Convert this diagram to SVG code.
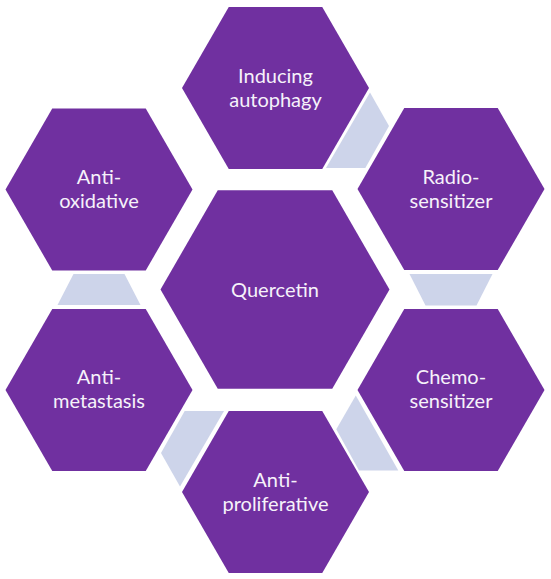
<svg xmlns="http://www.w3.org/2000/svg" xmlns:xlink="http://www.w3.org/1999/xlink" width="551" height="579" viewBox="0 0 551 579">
  <style>
    .hex { fill: #7030A0; }
    .conn { fill: #CDD4EA; }
    .lbl { font-family: Lato, "Open Sans", "Liberation Sans", sans-serif; font-size: 20px; fill: #F6F2FA; text-anchor: middle; }
  </style>
  <defs>
    <polygon id="hexS" points="-93.5,0 -46.75,-81 46.75,-81 93.5,0 46.75,81 -46.75,81"/>
    <polygon id="hexL" points="-114.5,0 -57.25,-99.2 57.25,-99.2 114.5,0 57.25,99.2 -57.25,99.2"/>
  </defs>
  <rect width="551" height="579" fill="#FFFFFF"/>
  <g id="connectors">
    <polygon class="conn" points="370,92.4 389,126.1 365.3,168 326,168"/>
    <polygon class="conn" points="409.5,274 492.5,274 476.5,305.5 425.5,305.5"/>
    <polygon class="conn" points="355.8,395.6 398.3,470.5 359,470.5 336.3,429.3"/>
    <polygon class="conn" points="180,486.6 161,452.9 184.7,411 224,411"/>
    <polygon class="conn" points="73.5,274 124.5,274 140.5,305 57.5,305"/>
  </g>
  <g id="node-quercetin">
    <use xlink:href="#hexL" class="hex" x="275" y="289.5"/>
    <text class="lbl" x="275" y="297">Quercetin</text>
  </g>
  <g id="node-autophagy">
    <use xlink:href="#hexS" class="hex" x="275.5" y="88"/>
    <text class="lbl" x="275.5" y="82.5">Inducing</text>
    <text class="lbl" x="275.5" y="106.5">autophagy</text>
  </g>
  <g id="node-radio">
    <use xlink:href="#hexS" class="hex" x="451" y="189"/>
    <text class="lbl" x="451" y="183.5">Radio-</text>
    <text class="lbl" x="451" y="207.5">sensitizer</text>
  </g>
  <g id="node-chemo">
    <use xlink:href="#hexS" class="hex" x="451" y="390"/>
    <text class="lbl" x="451" y="384">Chemo-</text>
    <text class="lbl" x="451" y="408">sensitizer</text>
  </g>
  <g id="node-antiproliferative">
    <use xlink:href="#hexS" class="hex" x="275.5" y="492"/>
    <text class="lbl" x="275.5" y="486.5">Anti-</text>
    <text class="lbl" x="275.5" y="510.5">proliferative</text>
  </g>
  <g id="node-antimetastasis">
    <use xlink:href="#hexS" class="hex" x="99" y="390"/>
    <text class="lbl" x="99" y="384">Anti-</text>
    <text class="lbl" x="99" y="408">metastasis</text>
  </g>
  <g id="node-antioxidative">
    <use xlink:href="#hexS" class="hex" x="99" y="189.5"/>
    <text class="lbl" x="99" y="183.5">Anti-</text>
    <text class="lbl" x="99" y="207.5">oxidative</text>
  </g>
</svg>
